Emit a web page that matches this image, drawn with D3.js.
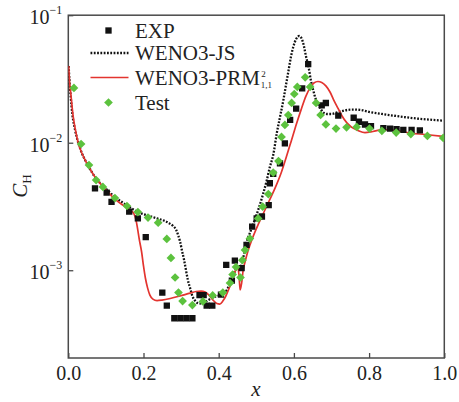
<!DOCTYPE html>
<html>
<head>
<meta charset="utf-8">
<script src="https://cdn.jsdelivr.net/npm/d3@7"></script>
<style>
  html, body { margin: 0; padding: 0; background: #fff; }
  svg { display: block; }
  text { font-family: "Liberation Serif", "DejaVu Serif", serif; fill: #222; }
</style>
</head>
<body>
<svg id="chart" width="459" height="402"></svg>
<script>
// Stanton number C_H along the surface coordinate x

// Experiment
const expX = [0.071,0.102,0.115,0.162,0.185,0.206,0.250,0.262,0.282,0.298,0.314,0.330,0.349,0.360,0.368,0.383,0.406,0.420,0.435,0.443,0.461,0.474,0.489,0.501,0.515,0.533,0.536,0.545,0.563,0.576,0.590,0.606,0.622,0.638,0.674,0.685,0.718,0.759,0.773,0.789,0.805,0.838,0.856,0.873,0.891,0.913,0.935];
const expCH = [0.00439,0.00406,0.00344,0.00288,0.00255,0.00182,0.000667,0.000528,0.00042,0.00042,0.00042,0.00042,0.000638,0.000638,0.000528,0.000528,0.000644,0.0011,0.00083,0.00119,0.00104,0.00158,0.0022,0.00255,0.00264,0.00324,0.00481,0.00569,0.00689,0.00989,0.0151,0.0185,0.0267,0.0414,0.0196,0.0205,0.0163,0.0157,0.0146,0.0139,0.0135,0.0130,0.0129,0.0128,0.0126,0.0126,0.0125];

// WENO3-JS
const jsX = [0.001,0.003,0.006,0.011,0.018,0.026,0.036,0.052,0.071,0.098,0.124,0.151,0.185,0.217,0.236,0.257,0.268,0.279,0.287,0.292,0.297,0.302,0.308,0.313,0.318,0.324,0.330,0.338,0.348,0.358,0.372,0.388,0.404,0.417,0.427,0.435,0.443,0.451,0.457,0.461,0.467,0.475,0.483,0.494,0.505,0.518,0.528,0.536,0.545,0.555,0.563,0.572,0.579,0.586,0.592,0.599,0.606,0.614,0.620,0.626,0.632,0.639,0.645,0.652,0.659,0.667,0.677,0.688,0.701,0.715,0.728,0.744,0.757,0.776,0.802,0.834,0.872,0.925,0.997];
const jsCH = [0.040,0.031,0.0237,0.0165,0.0126,0.0101,0.0083,0.00668,0.00538,0.00442,0.00375,0.0033,0.00286,0.00266,0.00255,0.00243,0.00234,0.00222,0.00207,0.00189,0.00169,0.00144,0.0012,0.001,0.000838,0.000724,0.000628,0.000573,0.000548,0.000553,0.000583,0.000617,0.000638,0.000668,0.000752,0.000853,0.000986,0.00108,0.00104,0.00112,0.00132,0.00169,0.00196,0.00239,0.00297,0.00396,0.00509,0.00644,0.00801,0.0121,0.0159,0.0216,0.0284,0.0372,0.047,0.0573,0.065,0.0687,0.0662,0.0584,0.0479,0.0393,0.031,0.0254,0.0216,0.0194,0.0174,0.0168,0.0168,0.0173,0.0177,0.0181,0.0182,0.0181,0.0174,0.0168,0.0162,0.0155,0.0149];

// WENO3-PRM
const prmX = [0.001,0.003,0.007,0.0125,0.019,0.026,0.036,0.052,0.071,0.098,0.124,0.145,0.164,0.175,0.180,0.184,0.189,0.195,0.200,0.205,0.211,0.217,0.225,0.236,0.249,0.271,0.297,0.324,0.340,0.353,0.364,0.374,0.385,0.395,0.403,0.411,0.419,0.427,0.435,0.443,0.450,0.454,0.457,0.461,0.465,0.470,0.478,0.489,0.502,0.518,0.534,0.549,0.566,0.579,0.592,0.605,0.619,0.632,0.643,0.653,0.664,0.674,0.685,0.696,0.706,0.717,0.728,0.741,0.754,0.770,0.789,0.810,0.837,0.869,0.909,0.949,0.997];
const prmCH = [0.040,0.031,0.0237,0.0165,0.0126,0.0101,0.0083,0.00668,0.00538,0.00434,0.00361,0.00324,0.00297,0.00276,0.00248,0.00214,0.00173,0.00139,0.00108,0.000869,0.000724,0.000638,0.000594,0.000578,0.000583,0.0006,0.000628,0.000662,0.000681,0.000686,0.000675,0.000638,0.000583,0.000548,0.000543,0.000573,0.000628,0.000712,0.000822,0.000968,0.00106,0.000917,0.0007,0.000794,0.001,0.00116,0.00142,0.00176,0.00218,0.00276,0.00349,0.00434,0.00578,0.00759,0.0101,0.0135,0.0181,0.0232,0.0269,0.0294,0.0302,0.0297,0.0279,0.025,0.0216,0.0187,0.0162,0.0143,0.0132,0.0125,0.0120,0.01225,0.0127,0.0125,0.0119,0.0116,0.0112];

// Test
const testX = [0.015,0.034,0.055,0.074,0.092,0.124,0.156,0.185,0.212,0.239,0.262,0.273,0.284,0.293,0.304,0.330,0.358,0.384,0.411,0.430,0.437,0.446,0.458,0.463,0.470,0.483,0.505,0.517,0.532,0.545,0.559,0.567,0.576,0.585,0.594,0.601,0.609,0.630,0.643,0.659,0.671,0.685,0.712,0.740,0.767,0.801,0.834,0.872,0.911,0.955,0.997];
const testCH = [0.0269,0.00977,0.00668,0.00509,0.0045,0.00368,0.00319,0.00286,0.00259,0.00236,0.00176,0.00125,0.000877,0.000668,0.000573,0.000533,0.000569,0.000634,0.000668,0.000794,0.000925,0.00106,0.000877,0.0012,0.00144,0.00177,0.00255,0.00315,0.00396,0.00582,0.00718,0.0111,0.0138,0.0165,0.0205,0.0241,0.0274,0.0326,0.0274,0.0205,0.0165,0.0139,0.0129,0.0132,0.0133,0.0129,0.0124,0.0120,0.0117,0.0113,0.0109];

const xTicks = [0, 0.2, 0.4, 0.6, 0.8, 1.0];
const yTicks = [1e-3, 1e-2, 1e-1];
const yTickExp = ["−3", "−2", "−1"];
const legendLabels = ["EXP", "WENO3-JS", "WENO3-PRM", "Test"];

const RED = "#e3342f", GREEN = "#5cc23e", FRAME = "#4a4a4a";

const svg = d3.select("#chart");
const m = { left: 68.3, right: 444.3, top: 15.2, bottom: 358 };

const x = d3.scaleLinear().domain([0, 1]).range([m.left, m.right]);
const y = d3.scaleLog().domain([2.05e-4, 0.1]).range([m.bottom, m.top]);

svg.append("defs").append("clipPath").attr("id", "plot")
  .append("rect").attr("x", m.left).attr("y", m.top)
  .attr("width", m.right - m.left).attr("height", m.bottom - m.top);

// axes with inward ticks
const gx = svg.append("g").attr("transform", `translate(0,${m.bottom})`)
  .call(d3.axisBottom(x).tickValues(xTicks).tickSize(-5).tickPadding(8).tickFormat(d3.format(".1f")));
gx.select(".domain").remove();
gx.selectAll(".tick line").attr("stroke", FRAME).attr("stroke-width", 1.3);
gx.selectAll(".tick text").attr("font-size", 20).attr("fill", "#222")
  .attr("font-family", "Liberation Serif, serif").attr("dy", "0.72em");

const gy = svg.append("g").attr("transform", `translate(${m.left},0)`)
  .call(d3.axisLeft(y).tickValues(yTicks).tickSize(-5).tickFormat(""));
gy.select(".domain").remove();
gy.selectAll(".tick line").attr("stroke", FRAME).attr("stroke-width", 1.3);

yTicks.forEach((v, i) => {
  const t = svg.append("text").attr("x", m.left - 6).attr("y", y(v) + 9)
    .attr("text-anchor", "end").attr("font-size", 20);
  t.append("tspan").text("10");
  t.append("tspan").attr("font-size", 12).attr("dy", -10).text(yTickExp[i]);
});

// frame
svg.append("rect").attr("x", m.left).attr("y", m.top)
  .attr("width", m.right - m.left).attr("height", m.bottom - m.top)
  .attr("fill", "none").attr("stroke", FRAME).attr("stroke-width", 1.5);

// axis titles
const yl = svg.append("text").attr("transform", "translate(27,186) rotate(-90)")
  .attr("text-anchor", "middle").attr("font-size", 21);
yl.append("tspan").attr("font-style", "italic").text("C");
yl.append("tspan").attr("font-size", 13).attr("dy", 4).text("H");

svg.append("text").attr("x", 256).attr("y", 396).attr("text-anchor", "middle")
  .attr("font-size", 21).attr("font-style", "italic").text("x");

const plot = svg.append("g").attr("clip-path", "url(#plot)");

const line = d3.line().x(d => x(d[0])).y(d => y(d[1])).curve(d3.curveMonotoneX);

plot.append("path").datum(d3.zip(jsX, jsCH)).attr("d", line)
  .attr("fill", "none").attr("stroke", "#111").attr("stroke-width", 2.3)
  .attr("stroke-dasharray", "1.8,1.5");

plot.append("path").datum(d3.zip(prmX, prmCH)).attr("d", line)
  .attr("fill", "none").attr("stroke", RED).attr("stroke-width", 1.7);

const square = d3.symbol().type(d3.symbolSquare).size(40);
const diamond = d3.symbol().type(d3.symbolSquare).size(38);

plot.selectAll(".exp").data(d3.zip(expX, expCH)).join("path").attr("class", "exp")
  .attr("d", square).attr("transform", d => `translate(${x(d[0])},${y(d[1])})`)
  .attr("fill", "#111");

plot.selectAll(".test").data(d3.zip(testX, testCH)).join("path").attr("class", "test")
  .attr("d", diamond).attr("transform", d => `translate(${x(d[0])},${y(d[1])}) rotate(45)`)
  .attr("fill", GREEN);

// legend
const lg = svg.append("g");
const rows = [30.5, 53, 77.5, 102.5];
lg.append("path").attr("d", square).attr("transform", `translate(108.5,${rows[0]})`).attr("fill", "#111");
lg.append("line").attr("x1", 90.5).attr("x2", 128.5).attr("y1", rows[1]).attr("y2", rows[1])
  .attr("stroke", "#111").attr("stroke-width", 2.3).attr("stroke-dasharray", "1.8,1.5");
lg.append("line").attr("x1", 90.5).attr("x2", 128.5).attr("y1", rows[2]).attr("y2", rows[2])
  .attr("stroke", RED).attr("stroke-width", 1.7);
lg.append("path").attr("d", diamond).attr("transform", `translate(108.5,${rows[3]}) rotate(45)`).attr("fill", GREEN);

legendLabels.forEach((s, i) => {
  const t = lg.append("text").attr("x", 135).attr("y", rows[i] + 7).attr("font-size", 21).text(s);
  if (i === 2) {
    // stacked superscript / subscript after the scheme name
    const w = t.node().getComputedTextLength();
    lg.append("text").attr("x", 135 + w + 1.5).attr("y", rows[i] - 1).attr("font-size", 9).text("2");
    lg.append("text").attr("x", 135 + w + 1).attr("y", rows[i] + 10).attr("font-size", 9).text("1,1");
  }
});
</script>
</body>
</html>
